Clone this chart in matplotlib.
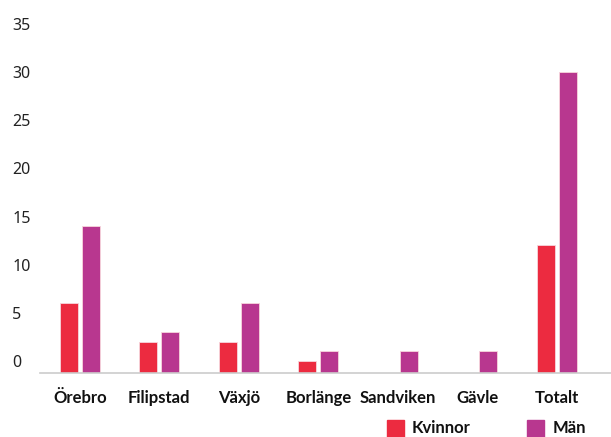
import numpy as np
import matplotlib
matplotlib.use("Agg")
import matplotlib.pyplot as plt
from matplotlib.patches import Rectangle

categories = ["Örebro", "Filipstad", "Växjö", "Borlänge", "Sandviken", "Gävle", "Totalt"]
kvinnor = [6, 2, 2, 0, np.nan, np.nan, 12]
man = [14, 3, 6, 1, 1, 1, 30]
series_names = ["Kvinnor", "Män"]
colors = ["#EC2B40", "#B8378F"]
yticks = [0, 5, 10, 15, 20, 25, 30, 35]

W, H = 611, 437
fig = plt.figure(figsize=(W / 100, H / 100), dpi=100)
ymin = -1.25
ax = fig.add_axes([40 / W, 64 / H, (W - 40) / W, 363 / H])
ax.set_ylim(ymin, ymin + 363 / 9.63)
ax.set_xlim(-0.5, 6.68)

x = np.arange(len(categories))
bw = 0.226
off = 0.138
for vals, col, sgn in [(kvinnor, colors[0], -1), (man, colors[1], 1)]:
    v = np.array(vals, dtype=float)
    ax.bar(x + sgn * off, v - ymin, bottom=ymin, width=bw, color=col,
           edgecolor="#f7d6dc", linewidth=0.6, zorder=2)

for s in ["top", "right", "left"]:
    ax.spines[s].set_visible(False)
ax.spines["bottom"].set_color("#cccccc")
ax.spines["bottom"].set_linewidth(1.2)

ax.set_yticks(yticks)
ax.set_yticklabels([str(t) for t in yticks], fontsize=11.5, color="#222222",
                   family="Noto Sans", ha="left")
ax.tick_params(axis="y", length=0, pad=20)
ax.set_xticks(x)
ax.set_xticklabels(categories, fontsize=12, fontweight="bold", color="#111111",
                   family="Lato")
ax.tick_params(axis="x", length=0, pad=12)

# legend
for (name, col, sx, tx) in [(series_names[0], colors[0], 387, 412),
                            (series_names[1], colors[1], 527, 553)]:
    fig.patches.append(Rectangle((sx / W, (H - 437) / H), 17 / W, 17 / H,
                                 transform=fig.transFigure, color=col))
    fig.text(tx / W, (H - 428) / H, name, fontsize=12, fontweight="bold",
             color="#111111", family="Lato", va="center", ha="left")

fig.savefig("out.png", dpi=100)
